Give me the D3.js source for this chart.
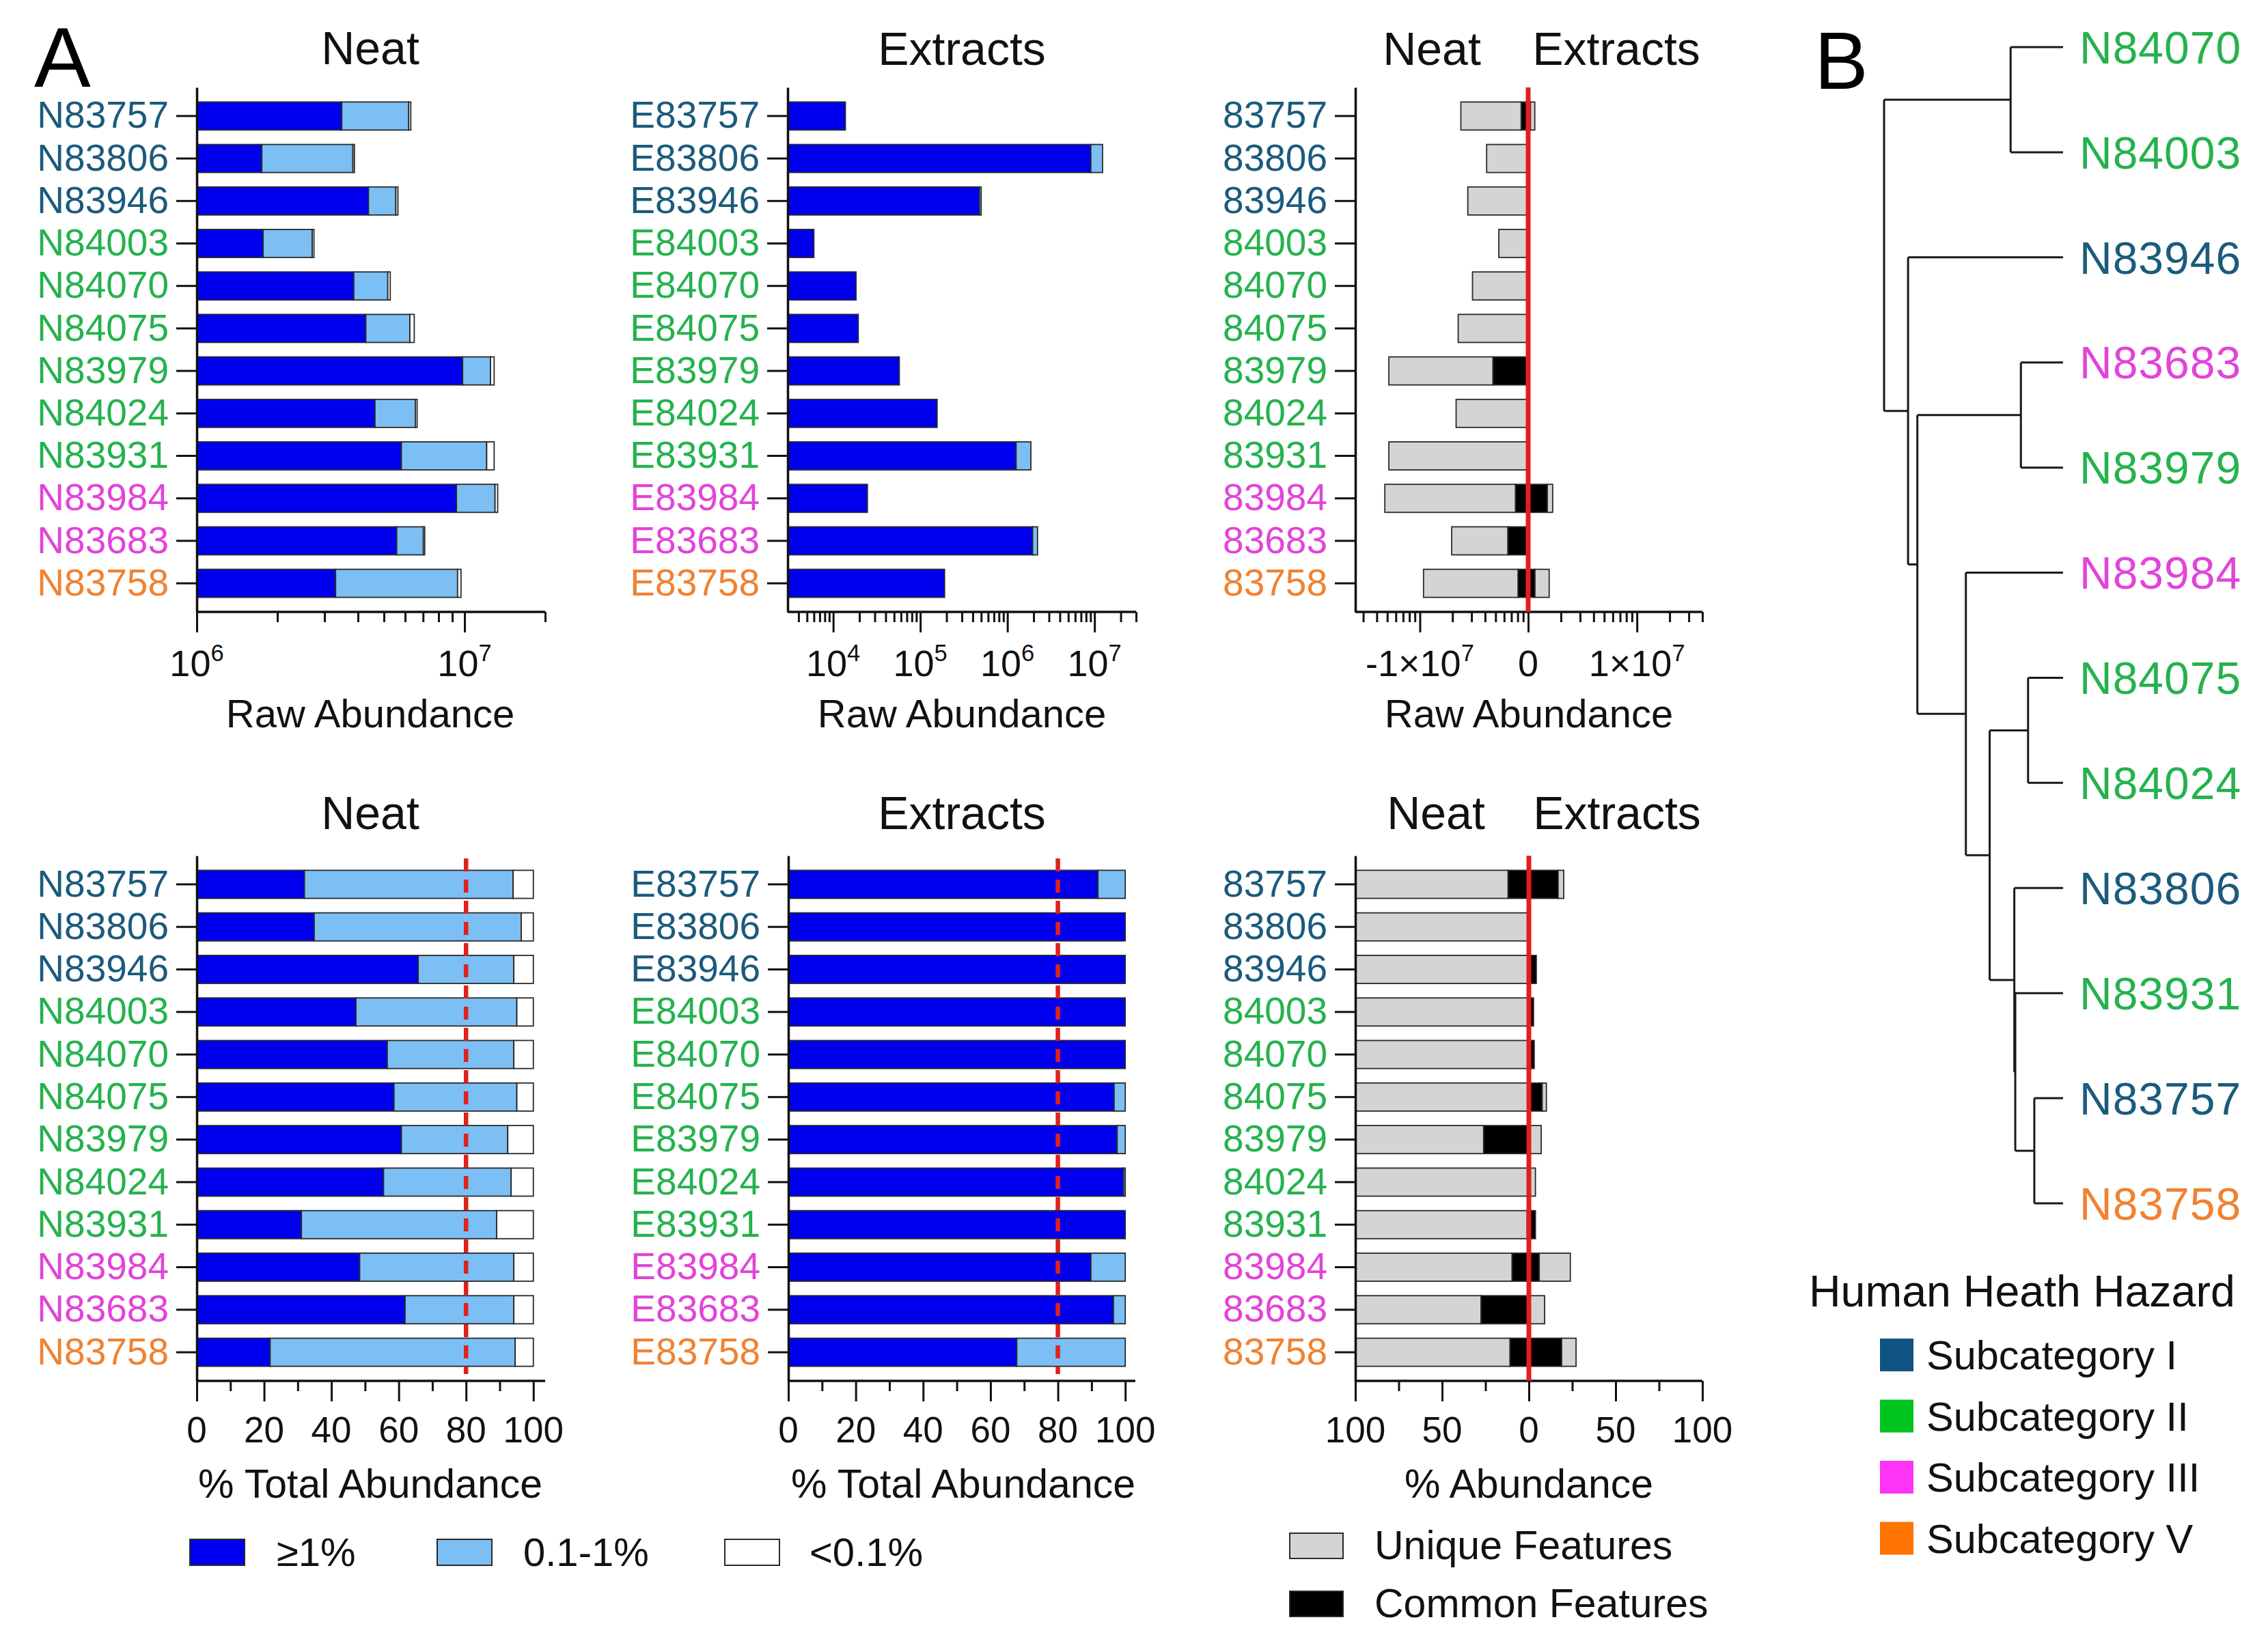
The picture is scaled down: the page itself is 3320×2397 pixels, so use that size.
<!DOCTYPE html>
<html><head><meta charset="utf-8">
<script src="https://cdn.jsdelivr.net/npm/d3@7"></script>
<style>
body{margin:0;background:#fff}
svg{display:block}
text{font-family:"Liberation Sans", Arial, Helvetica, sans-serif}
</style>
</head><body>
<svg id="c" width="3320" height="2397"></svg>
<script>
// ---------------- DATA ----------------
const samples = ["83757","83806","83946","84003","84070","84075","83979","84024","83931","83984","83683","83758"];
const subcats = ["I","I","I","II","II","II","II","II","II","III","III","V"];
const neatLabels = samples.map(s => "N" + s);
const extLabels = samples.map(s => "E" + s);

// Raw abundance, Neat (stacked segments: >=1%, 0.1-1%, <0.1%)
const rawNeatGe1 = [3.48e6,1.75e6,4.38e6,1.77e6,3.86e6,4.28e6,9.84e6,4.63e6,5.81e6,9.33e6,5.58e6,3.30e6];
const rawNeatMid = [2.71e6,2.08e6,1.16e6,0.93e6,1.31e6,1.97e6,2.66e6,1.92e6,6.29e6,3.67e6,1.44e6,6.12e6];
const rawNeatLow = [0.11e6,0.05e6,0.10e6,0.04e6,0.11e6,0.24e6,0.40e6,0.10e6,0.80e6,0.30e6,0.08e6,0.28e6];
// Raw abundance, Extracts
const rawExtGe1 = [1.38e4,9.08e6,4.78e5,6.0e3,1.83e4,1.94e4,5.74e4,1.56e5,1.26e6,2.47e4,1.95e6,1.90e5];
const rawExtMid = [0,3.3e6,2.2e4,0,0,0,0,0,6.0e5,0,2.7e5,0];
const rawExtLow = [0,0,0,0,0,0,0,0,0,0,0,0];

// % total abundance
const pctNeatGe1 = [32.0,34.9,65.8,47.3,56.6,58.6,60.8,55.5,31.1,48.4,61.9,21.8];
const pctNeatMid = [62.0,61.5,28.4,47.8,37.6,36.5,31.6,37.9,58.0,45.8,32.3,72.8];
const pctNeatLow = [6.0,3.6,5.8,4.9,5.8,4.9,7.6,6.6,10.9,5.8,5.8,5.4];
const pctExtGe1 = [91.9,100,100,100,100,96.7,97.6,99.5,100,89.8,96.5,67.8];
const pctExtMid = [8.1,0,0,0,0,3.3,2.4,0.5,0,10.2,3.5,32.2];
const pctExtLow = [0,0,0,0,0,0,0,0,0,0,0,0];

// Unique / common features, raw abundance
const featNeatCommonRaw = [1.16e6,0,0,0,0,0,2.11e6,0,0,1.31e6,1.54e6,1.24e6];
const featNeatUniqueRaw = [3.00e6,2.41e6,3.59e6,1.86e6,3.25e6,4.40e6,1.70e7,4.60e6,1.91e7,1.95e7,3.51e6,7.93e6];
const featExtCommonRaw = [1.05e6,0,0,0,0,0,0,0,0,1.50e6,0,1.155e6];
const featExtUniqueRaw = [0.10e6,0,0,0,0,0,0,0,0,0.18e6,0,0.405e6];
// Unique / common features, % abundance
const featNeatCommonPct = [12.0,0,0,0,0,0,26.1,0,1.0,9.7,27.6,10.9];
const featNeatUniquePct = [88.0,100,100,100,100,100,73.9,100,99.0,90.3,72.4,89.1];
const featExtCommonPct = [16.9,0,4.3,2.7,3.1,7.7,0,0,3.8,6.0,0,18.9];
const featExtUniquePct = [3.2,0,0,0,0,2.4,7.1,3.8,0,17.9,9.1,8.3];

// Dendrogram (B): leaf order and merge heights (relative)
const dendroLeaves = ["N84070","N84003","N83946","N83683","N83979","N83984","N84075","N84024","N83806","N83931","N83757","N83758"];
const dendroSubcats = ["II","II","I","III","II","III","II","II","I","II","I","V"];
const dendroTree = {h:1.0, c:[
  {h:0.293, c:["N84070","N84003"]},
  {h:0.866, c:["N83946",
    {h:0.814, c:[
      {h:0.2356, c:["N83683","N83979"]},
      {h:0.543, c:["N83984",
        {h:0.410, c:[
          {h:0.1955, c:["N84075","N84024"]},
          {h:0.2723, c:["N83806",
            {h:0.267, c:["N83931",
              {h:0.1606, c:["N83757","N83758"]}]}]}]}]}]}]}]};

const hazardNames = ["Subcategory I","Subcategory II","Subcategory III","Subcategory V"];
const hazardKeys = ["I","II","III","V"];
const stackLegend = ["\u22651%","0.1-1%","<0.1%"];
const featLegend = ["Unique Features","Common Features"];

// ---------------- STYLE ----------------
const textCol = {I:"#1b5b7c", II:"#25b24e", III:"#e244d8", V:"#f08232"};
const swatchCol = {I:"#0f5482", II:"#00c41e", III:"#ff33f6", V:"#ff7400"};
const DARK = "#0000ee", LIGHT = "#7cbff4", WHITE = "#ffffff";
const GRAY = "#d4d4d4", BLACK = "#000000", RED = "#e0201c";
const STROKE = "#2a2a2a";

const svg = d3.select("#c");
svg.append("rect").attr("width",3320).attr("height",2397).attr("fill","#fff");

const yTop = d3.scaleBand().domain(d3.range(12)).range([128,896]).paddingInner(0.34).paddingOuter(0.343);
const yBot = d3.scaleBand().domain(d3.range(12)).range([1253,2022]).paddingInner(0.34).paddingOuter(0.343);

function yAxis(x0, y, labels) {
  const g = svg.append("g").attr("transform",`translate(${x0},0)`)
    .call(d3.axisLeft(y).tickSize(30).tickPadding(11).tickSizeOuter(0).tickFormat(i => labels[i]));
  g.select(".domain").attr("stroke","#111").attr("stroke-width",3.5);
  g.selectAll(".tick line").attr("stroke","#111").attr("stroke-width",3);
  g.selectAll(".tick text").attr("font-size",55).attr("font-family",null)
    .attr("fill", i => textCol[subcats[i]]);
}
function ticks(scale, values, y0, len) {
  const g = svg.append("g").attr("transform",`translate(0,${y0})`)
    .call(d3.axisBottom(scale).tickValues(values).tickSize(len).tickFormat(""));
  g.select(".domain").remove();
  g.selectAll(".tick line").attr("stroke","#111").attr("stroke-width",3);
}
function hline(x1,x2,y){
  svg.append("line").attr("x1",x1).attr("x2",x2).attr("y1",y).attr("y2",y)
    .attr("stroke","#111").attr("stroke-width",3.5);
}
function label(x, y, base, sup, size) {
  const t = svg.append("text").attr("x",x).attr("y",y).attr("text-anchor","middle")
    .attr("font-size",size||54).attr("fill","#111");
  t.append("tspan").text(base);
  if (sup) t.append("tspan").attr("dy",-22).attr("font-size",(size||54)*0.64).text(sup);
  return t;
}
function title(x, y, s, size) {
  svg.append("text").attr("x",x).attr("y",y).attr("text-anchor","middle")
    .attr("font-size",size||68).attr("fill","#111").text(s);
}
// stacked horizontal bars; scale maps value -> x; start clamped to domain min
function stack(scale, y, series, colors, minV) {
  const g = svg.append("g");
  d3.range(12).forEach(i => {
    let cum = 0;
    series.forEach((arr, k) => {
      const v = arr[i];
      const s = cum, e = cum + v;
      cum = e;
      if (v <= 0) return;
      const a = scale(Math.max(s, minV)), b = scale(Math.max(e, minV));
      if (Math.abs(b - a) < 0.01) return;
      g.append("rect").attr("x",Math.min(a,b)).attr("width",Math.abs(b-a))
        .attr("y",y(i)).attr("height",y.bandwidth())
        .attr("fill",colors[k]).attr("stroke",STROKE).attr("stroke-width",1.8);
    });
  });
}
function dashed(x, y1, y2) {
  svg.append("line").attr("x1",x).attr("x2",x).attr("y1",y1).attr("y2",y2)
    .attr("stroke",RED).attr("stroke-width",6.5).attr("stroke-dasharray","19,12");
}

// ---------------- PANEL A: top-left (Raw, Neat) ----------------
const xTL = d3.scaleLog().domain([1e6,2e7]).range([288,798]);
stack(xTL, yTop, [rawNeatGe1, rawNeatMid, rawNeatLow], [DARK, LIGHT, WHITE], 1e6);
yAxis(288, yTop, neatLabels);
hline(288,798,896);
ticks(xTL, [2e6,3e6,4e6,5e6,6e6,7e6,8e6,9e6,2e7], 896, 15);
ticks(xTL, [1e6,1e7], 896, 30);
label(xTL(1e6), 990, "10", "6");
label(xTL(1e7), 990, "10", "7");
title(542, 94, "Neat");
label(542, 1065, "Raw Abundance", null, 58);

// ---------------- top-middle (Raw, Extracts) ----------------
const xTM = d3.scaleLog().domain([3e3,3e7]).range([1153,1663]);
stack(xTM, yTop, [rawExtGe1, rawExtMid, rawExtLow], [DARK, LIGHT, WHITE], 3e3);
yAxis(1153, yTop, extLabels);
hline(1153,1663,896);
const tmMinor = [];
[1e3,1e4,1e5,1e6,1e7].forEach(d => [2,3,4,5,6,7,8,9].forEach(m => { const v = d*m; if (v > 3e3 && v <= 3e7) tmMinor.push(v); }));
ticks(xTM, tmMinor, 896, 15);
ticks(xTM, [1e4,1e5,1e6,1e7], 896, 30);
[[1e4,"4"],[1e5,"5"],[1e6,"6"],[1e7,"7"]].forEach(([v,s]) => label(xTM(v), 990, "10", s));
title(1408, 95, "Extracts");
label(1408, 1065, "Raw Abundance", null, 58);

// ---------------- top-right (Raw, unique/common) ----------------
const C = 2237;
const xTRr = d3.scaleLog().domain([1e6,4e7]).range([C,2492]);
const xTRl = d3.scaleLog().domain([1e6,4e7]).range([C,1982]);
const xTRlTicks = d3.scaleLog().domain([2.5e6,1e8]).range([1983,C]);
stack(xTRl, yTop, [featNeatCommonRaw, featNeatUniqueRaw], [BLACK, GRAY], 1e6);
stack(xTRr, yTop, [featExtCommonRaw, featExtUniqueRaw], [BLACK, GRAY], 1e6);
yAxis(1984, yTop, samples);
hline(1984,2492,896);
ticks(xTRr, [2e6,3e6,4e6,5e6,6e6,7e6,8e6,9e6,2e7,3e7,4e7], 896, 15);
ticks(xTRr, [1e6,1e7], 896, 30);
ticks(xTRlTicks, [3e6,4e6,5e6,6e6,7e6,8e6,9e6,2e7,3e7,4e7,5e7,6e7,7e7,8e7,9e7], 896, 15);
ticks(xTRlTicks, [1e7], 896, 30);
label(xTRlTicks(1e7), 990, "-1\u00d710", "7");
label(C, 990, "0");
label(xTRr(1e7), 990, "1\u00d710", "7");
svg.append("line").attr("x1",C).attr("x2",C).attr("y1",128).attr("y2",896)
  .attr("stroke",RED).attr("stroke-width",7);
title(2096, 95, "Neat");
title(2366, 95, "Extracts");
label(2238, 1065, "Raw Abundance", null, 58);

// ---------------- bottom-left (% Neat) ----------------
const xBL = d3.scaleLinear().domain([0,103.5]).range([288,798]);
stack(xBL, yBot, [pctNeatGe1, pctNeatMid, pctNeatLow], [DARK, LIGHT, WHITE], 0);
yAxis(288, yBot, neatLabels);
hline(288,798,2022);
ticks(xBL, [10,30,50,70,90], 2022, 15);
ticks(xBL, [0,20,40,60,80,100], 2022, 30);
[0,20,40,60,80,100].forEach(v => label(xBL(v), 2112, String(v), null, 53));
dashed(xBL(80), 1257, 2012);
title(542, 1214, "Neat");
label(542, 2193, "% Total Abundance", null, 59);

// ---------------- bottom-middle (% Extracts) ----------------
const xBM = d3.scaleLinear().domain([0,103]).range([1154,1662]);
stack(xBM, yBot, [pctExtGe1, pctExtMid, pctExtLow], [DARK, LIGHT, WHITE], 0);
yAxis(1154, yBot, extLabels);
hline(1154,1662,2022);
ticks(xBM, [10,30,50,70,90], 2022, 15);
ticks(xBM, [0,20,40,60,80,100], 2022, 30);
[0,20,40,60,80,100].forEach(v => label(xBM(v), 2112, String(v), null, 53));
dashed(xBM(80), 1257, 2012);
title(1408, 1214, "Extracts");
label(1410, 2193, "% Total Abundance", null, 59);

// ---------------- bottom-right (% unique/common) ----------------
const xBR = d3.scaleLinear().domain([-100,100]).range([1984,2492]);
stack(v => xBR(-v), yBot, [featNeatCommonPct, featNeatUniquePct], [BLACK, GRAY], 0);
stack(xBR, yBot, [featExtCommonPct, featExtUniquePct], [BLACK, GRAY], 0);
yAxis(1984, yBot, samples);
hline(1984,2492,2022);
ticks(xBR, [-75,-25,25,75], 2022, 15);
ticks(xBR, [-100,-50,0,50,100], 2022, 30);
[-100,-50,0,50,100].forEach(v => label(xBR(v), 2112, String(Math.abs(v)), null, 53));
svg.append("line").attr("x1",xBR(0)).attr("x2",xBR(0)).attr("y1",1253).attr("y2",2022)
  .attr("stroke",RED).attr("stroke-width",7);
title(2102, 1214, "Neat");
title(2367, 1214, "Extracts");
label(2238, 2193, "% Abundance", null, 59);

// ---------------- legends (A) ----------------
const legX = [278, 640, 1061], legT = [405, 766, 1185];
[DARK, LIGHT, WHITE].forEach((c,i) => {
  svg.append("rect").attr("x",legX[i]).attr("y",2254).attr("width",80).attr("height",38)
    .attr("fill",c).attr("stroke",STROKE).attr("stroke-width",2);
  svg.append("text").attr("x",legT[i]).attr("y",2293).attr("font-size",58).attr("fill","#111").text(stackLegend[i]);
});
[GRAY, BLACK].forEach((c,i) => {
  const y0 = [2245, 2330][i];
  svg.append("rect").attr("x",1888).attr("y",y0).attr("width",78).attr("height",37)
    .attr("fill",c).attr("stroke",STROKE).attr("stroke-width",2);
  svg.append("text").attr("x",2012).attr("y",y0+38).attr("font-size",59).attr("fill","#111").text(featLegend[i]);
});

// panel letters
svg.append("text").attr("x",50).attr("y",127).attr("font-size",124).attr("fill","#000").text("A");
svg.append("text").attr("x",2656).attr("y",130).attr("font-size",118).attr("fill","#000").text("B");

// ---------------- PANEL B: dendrogram ----------------
const yLeaf = d3.scalePoint().domain(dendroLeaves).range([69,1762]);
const xH = d3.scaleLinear().domain([0,1]).range([3020,2758]);
const root = d3.hierarchy(dendroTree, d => (typeof d === "string") ? null : d.c);
root.eachAfter(n => {
  if (!n.children) { n.py = yLeaf(n.data); n.px = xH(0); }
  else { n.py = d3.mean(n.children, c => c.py); n.px = xH(n.data.h); }
});
const dg = svg.append("g").attr("stroke","#1a1a1a").attr("stroke-width",3).attr("fill","none");
root.each(n => {
  if (!n.children) return;
  const ys = n.children.map(c => c.py);
  dg.append("line").attr("x1",n.px).attr("x2",n.px).attr("y1",d3.min(ys)).attr("y2",d3.max(ys));
  n.children.forEach(c => dg.append("line").attr("x1",n.px).attr("x2",c.px).attr("y1",c.py).attr("y2",c.py));
});
dendroLeaves.forEach((name,i) => {
  svg.append("text").attr("x",3044).attr("y",yLeaf(name)).attr("dy","0.36em")
    .attr("font-size",66).attr("letter-spacing",1).attr("fill",textCol[dendroSubcats[i]]).text(name);
});

// hazard legend
svg.append("text").attr("x",2648).attr("y",1913).attr("font-size",64.5).attr("fill","#111").text("Human Heath Hazard");
hazardKeys.forEach((k,i) => {
  const y0 = 1960 + i*89.5;
  svg.append("rect").attr("x",2752).attr("y",y0).attr("width",49).attr("height",48).attr("fill",swatchCol[k]);
  svg.append("text").attr("x",2820).attr("y",y0+24).attr("dy","0.36em").attr("font-size",59.5).attr("fill","#111").text(hazardNames[i]);
});
</script>
</body></html>
